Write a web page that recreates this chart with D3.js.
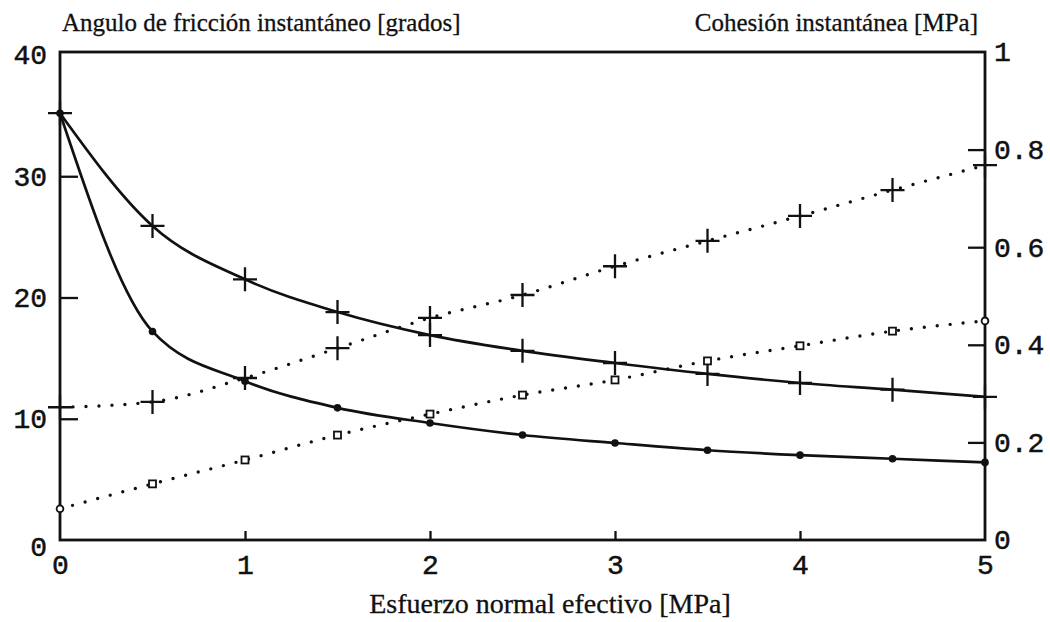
<!DOCTYPE html>
<html>
<head>
<meta charset="utf-8">
<script src="https://cdn.jsdelivr.net/npm/d3@7"></script>
<style>
  html, body { margin: 0; padding: 0; background: #fff; }
  svg { display: block; }
  .tick text { font-family: "Liberation Mono", monospace; font-size: 28px; fill: #111; stroke: #111; stroke-width: 0.5px; }
  .title { font-family: "Liberation Serif", "Times New Roman", serif; fill: #111; stroke: #111; stroke-width: 0.3px; }
</style>
</head>
<body>
<div id="chart"></div>
<script>
// esfuerzo normal efectivo [MPa]
const esfuerzo = [0, 0.5, 1, 1.5, 2, 2.5, 3, 3.5, 4, 4.5, 5];
// angulo de friccion instantaneo [grados]
const anguloCruz  = [35.2, 25.9, 21.5, 18.8, 16.9, 15.6, 14.6, 13.7, 12.95, 12.4, 11.8];
const anguloPunto = [35.2, 17.2, 13.1, 10.9, 9.65, 8.66, 8.0, 7.4, 7.0, 6.7, 6.4];
// cohesion instantanea [MPa]
const cohesionCruz   = [0.272, 0.283, 0.332, 0.393, 0.455, 0.502, 0.561, 0.613, 0.664, 0.717, 0.768];
const cohesionCuadro = [0.064, 0.115, 0.164, 0.215, 0.258, 0.297, 0.328, 0.367, 0.398, 0.428, 0.449];

const xTicks = [0, 1, 2, 3, 4, 5];
const leftTicks = [0, 10, 20, 30, 40];
const rightTicks = [0, 0.2, 0.4, 0.6, 0.8, 1];

const width = 1050, height = 622;
const svg = d3.select('#chart').append('svg')
    .attr('width', width).attr('height', height);

const x = d3.scaleLinear().domain([0, 5]).range([60, 985]);
const yL = d3.scaleLinear().domain([0, 40]).range([540, 55]);
const yR = d3.scaleLinear().domain([0, 1]).range([540, 52]);

// marco
svg.append('rect')
    .attr('x', x(0)).attr('y', yR(1))
    .attr('width', x(5) - x(0)).attr('height', yR(0) - yR(1))
    .attr('fill', 'none').attr('stroke', '#111').attr('stroke-width', 2.8);

// ejes
const fmt = d3.format('~g');
const gx = svg.append('g').attr('transform', `translate(0,${yR(0)})`)
    .call(d3.axisBottom(x).tickValues(xTicks).tickSize(-9).tickPadding(14).tickFormat(fmt));
const gl = svg.append('g').attr('transform', `translate(${x(0)},0)`)
    .call(d3.axisLeft(yL).tickValues(leftTicks).tickSize(-18).tickPadding(13).tickFormat(fmt));
const gr = svg.append('g').attr('transform', `translate(${x(5)},0)`)
    .call(d3.axisRight(yR).tickValues(rightTicks).tickSize(-17).tickPadding(9).tickFormat(fmt));

[gx, gl, gr].forEach((g) => {
    g.select('.domain').remove();
    g.selectAll('.tick line').attr('stroke', '#111').attr('stroke-width', 2.3);
});
gl.selectAll('.tick').filter((d) => d === 0 || d === 40).select('line').remove();
gr.selectAll('.tick').filter((d) => d === 0 || d === 1).select('line').remove();
gx.selectAll('.tick').filter((d) => d === 0 || d === 5).select('line').remove();
gl.selectAll('.tick').filter((d) => d === 0).select('text').attr('dy', '0.55em');

// titulos
svg.append('text').attr('class', 'title')
    .attr('x', 62).attr('y', 31).style('font-size', '25px')
    .text('Angulo de fricción instantáneo [grados]');
svg.append('text').attr('class', 'title')
    .attr('x', 978).attr('y', 31).attr('text-anchor', 'end').style('font-size', '25px')
    .text('Cohesión instantánea [MPa]');
svg.append('text').attr('class', 'title')
    .attr('x', 550).attr('y', 613).attr('text-anchor', 'middle').style('font-size', '28px')
    .text('Esfuerzo normal efectivo [MPa]');

// curvas
const pairs = (ys) => esfuerzo.map((e, i) => [e, ys[i]]);
const lineL = d3.line().x((d) => x(d[0])).y((d) => yL(d[1])).curve(d3.curveMonotoneX);
const lineR = d3.line().x((d) => x(d[0])).y((d) => yR(d[1])).curve(d3.curveMonotoneX);

svg.append('path').datum(pairs(anguloCruz)).attr('d', lineL)
    .attr('fill', 'none').attr('stroke', '#111').attr('stroke-width', 2.7);
svg.append('path').datum(pairs(anguloPunto)).attr('d', lineL)
    .attr('fill', 'none').attr('stroke', '#111').attr('stroke-width', 2.7);
svg.append('path').datum(pairs(cohesionCruz)).attr('d', lineR)
    .attr('fill', 'none').attr('stroke', '#111').attr('stroke-width', 3.4)
    .attr('stroke-linecap', 'round').attr('stroke-dasharray', '0 13');
svg.append('path').datum(pairs(cohesionCuadro)).attr('d', lineR)
    .attr('fill', 'none').attr('stroke', '#111').attr('stroke-width', 3.4)
    .attr('stroke-linecap', 'round').attr('stroke-dasharray', '0 13');

// marcadores
const cross = 'M-12,0H12M0,-12V12';
svg.append('g').selectAll('path').data(pairs(anguloCruz)).join('path')
    .attr('transform', (d) => `translate(${x(d[0])},${yL(d[1])})`)
    .attr('d', cross).attr('stroke', '#111').attr('stroke-width', 2.3);
svg.append('g').selectAll('path').data(pairs(cohesionCruz)).join('path')
    .attr('transform', (d) => `translate(${x(d[0])},${yR(d[1])})`)
    .attr('d', cross).attr('stroke', '#111').attr('stroke-width', 2.3);
svg.append('g').selectAll('circle').data(pairs(anguloPunto)).join('circle')
    .attr('cx', (d) => x(d[0])).attr('cy', (d) => yL(d[1])).attr('r', 3.8)
    .attr('fill', '#111');
svg.append('g').selectAll('.sq').data(pairs(cohesionCuadro)).join((enter) => enter.append((d, i) =>
        document.createElementNS('http://www.w3.org/2000/svg', i === 0 || i === esfuerzo.length - 1 ? 'circle' : 'rect')))
    .each(function (d) {
        const el = d3.select(this);
        if (this.tagName === 'circle') {
            el.attr('cx', x(d[0])).attr('cy', yR(d[1])).attr('r', 3.4);
        } else {
            el.attr('x', x(d[0]) - 3.5).attr('y', yR(d[1]) - 3.5).attr('width', 7).attr('height', 7);
        }
    })
    .attr('fill', '#fff').attr('stroke', '#111').attr('stroke-width', 1.8);
</script>
</body>
</html>
